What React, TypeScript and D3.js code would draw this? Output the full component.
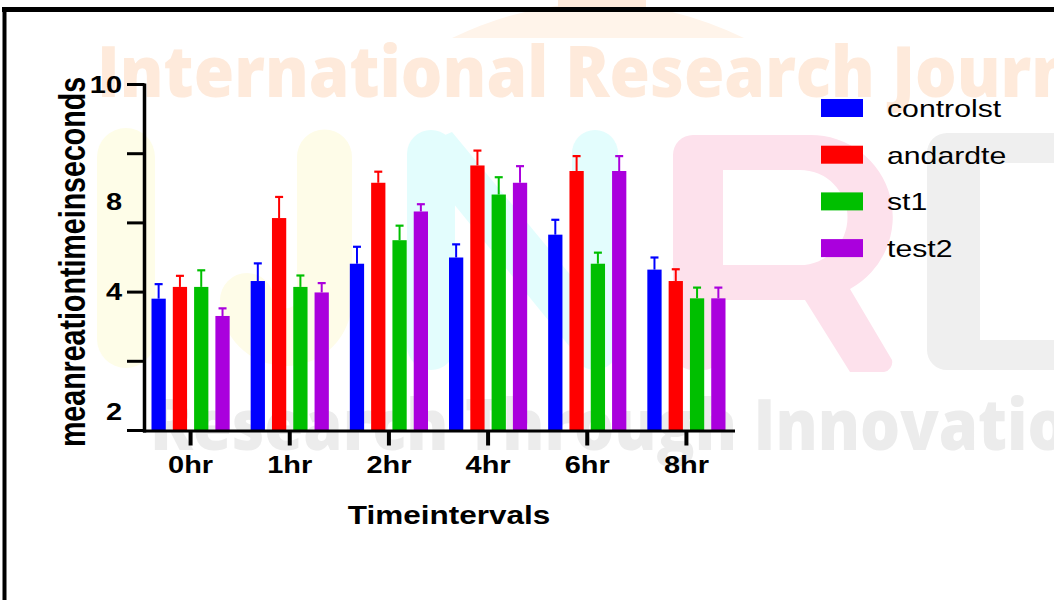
import React from "react";
import * as d3 from "d3";

// ---------- data ----------
const categories = ["0hr", "1hr", "2hr", "4hr", "6hr", "8hr"];
const seriesNames = ["controlst", "andardte", "st1", "test2"];
const seriesColors = ["#0000FF", "#FF0000", "#00BF00", "#AA00DD"];

const controlst = [3.81, 4.32, 4.82, 5.0, 5.66, 4.65];
const controlstErr = [0.42, 0.51, 0.49, 0.38, 0.43, 0.35];
const andardte = [4.15, 6.14, 7.16, 7.66, 7.5, 4.32];
const andardteErr = [0.32, 0.61, 0.32, 0.43, 0.43, 0.34];
const st1 = [4.15, 4.15, 5.5, 6.82, 4.82, 3.82];
const st1Err = [0.48, 0.33, 0.42, 0.5, 0.32, 0.31];
const test2 = [3.31, 3.99, 6.33, 7.16, 7.5, 3.82];
const test2Err = [0.22, 0.27, 0.21, 0.48, 0.43, 0.31];

const seriesValues = [controlst, andardte, st1, test2];
const seriesErrors = [controlstErr, andardteErr, st1Err, test2Err];

const yTickValues = [0, 2, 4, 6, 8, 10];
const yLabelValues = [10, 6.6, 4, 0.55];
const yLabelTexts = ["10", "8", "4", "2"];

const xTitle = "Timeintervals";
const yTitle = "meanreationtimeinseconds";

// ---------- styling ----------
const W = 1054;
const H = 600;
const SX = 1.26; // horizontal text stretch seen in the reference
const FONT = "'Liberation Sans', Arial, Helvetica, sans-serif";

function Watermark() {
  return (
    <g>
      {/* top dome */}
      <path d="M452,38 Q598,-32 744,38 Z" fill="#fff4ea" />
      <rect x={558} y={0} width={88} height={8} fill="#feeadb" />
      {/* I */}
      <rect x={97} y={128} width={58} height={240} rx={29} fill="#fefde8" />
      {/* J */}
      <path
        d="M297,157 a27.5,27.5 0 0 1 55,0 V300 a66,66 0 0 1 -132,0 a27,27 0 0 1 54,0 a12,12 0 0 0 23,0 Z"
        fill="#fefce8"
      />
      {/* N */}
      <rect x={407} y={130} width={48} height={240} rx={24} fill="#e3fdfd" />
      <rect x={572} y={130} width={46} height={240} rx={23} fill="#e3fdfd" />
      <path d="M410,150 L452,132 L616,330 L574,352 Z" fill="#e3fdfd" />
      {/* R */}
      <path
        d="M673,155 a20,20 0 0 1 20,-20 H810 a82,82 0 0 1 40,154 L892,360 a10,10 0 0 1 -8,12 H850 L805,300 H723 V350 a20,20 0 0 1 -20,20 H693 a20,20 0 0 1 -20,-20 Z M723,170 V265 H800 a47,47 0 0 0 0,-95 Z"
        fill="#fde1ec"
        fillRule="evenodd"
      />
      {/* D */}
      <path
        d="M927,153 a20,20 0 0 1 20,-20 H1054 V370 H947 a20,20 0 0 1 -20,-20 Z M980,163 V340 H1054 V163 Z"
        fill="#efefef"
        fillRule="evenodd"
      />
      <text
        x={97}
        y={97}
        fontFamily="'Open Sans', Lato, sans-serif"
        fontWeight={800}
        fontSize={70}
        fill="#feeadb"
        textLength={1040}
        lengthAdjust="spacingAndGlyphs"
      >
        International Research Journal
      </text>
      <text
        x={150}
        y={450}
        fontFamily="'Open Sans', Lato, sans-serif"
        fontWeight={800}
        fontSize={70}
        fill="#ececec"
        textLength={960}
        lengthAdjust="spacingAndGlyphs"
      >
        Research Through Innovation
      </text>
    </g>
  );
}

export default function App() {
  const y = d3.scaleLinear().domain([0, 10]).range([430.5, 84.5]);
  const x0 = d3.scaleBand<string>().domain(categories).range([141, 736]);
  const x1 = d3
    .scaleBand<string>()
    .domain(seriesNames)
    .range([0, x0.bandwidth()])
    .paddingInner(0.33)
    .paddingOuter(0.493);

  const axisX = 144.5;
  const baseY = y(0);

  return (
    <svg
      width={W}
      height={H}
      viewBox={`0 0 ${W} ${H}`}
      style={{ position: "absolute", left: 0, top: 0, background: "#fff" }}
    >
      <rect x={0} y={0} width={W} height={H} fill="#fff" />
      <Watermark />

      {/* frame */}
      <line x1={2} x2={W} y1={9.5} y2={9.5} stroke="#000" strokeWidth={5} />
      <line x1={4.5} x2={4.5} y1={7} y2={H} stroke="#000" strokeWidth={4} />

      {/* bars */}
      {categories.map((c, i) => (
        <g key={c}>
          {seriesNames.map((s, j) => {
            const v = seriesValues[j][i];
            const e = seriesErrors[j][i];
            const bx = (x0(c) as number) + (x1(s) as number);
            const bw = x1.bandwidth();
            const cx = bx + bw / 2;
            const col = seriesColors[j];
            return (
              <g key={s}>
                <rect x={bx} y={y(v)} width={bw} height={baseY - y(v)} fill={col} />
                <line x1={cx} x2={cx} y1={y(v)} y2={y(v + e)} stroke={col} strokeWidth={2} />
                <line x1={cx - 4} x2={cx + 4} y1={y(v + e)} y2={y(v + e)} stroke={col} strokeWidth={2.2} />
              </g>
            );
          })}
        </g>
      ))}

      {/* y axis */}
      <line x1={axisX} x2={axisX} y1={y(10) - 1} y2={baseY + 2} stroke="#000" strokeWidth={3.5} />
      {yTickValues.map((t) => (
        <line key={t} x1={127} x2={axisX} y1={y(t)} y2={y(t)} stroke="#000" strokeWidth={3} />
      ))}
      {yLabelValues.map((v, i) => (
        <text
          key={i}
          transform={`translate(122,${y(v)}) scale(${SX},1)`}
          textAnchor="end"
          dy="0.36em"
          fontFamily={FONT}
          fontWeight="bold"
          fontSize={23}
          fill="#000"
        >
          {yLabelTexts[i]}
        </text>
      ))}

      {/* x axis */}
      <line x1={143} x2={735} y1={baseY + 0.5} y2={baseY + 0.5} stroke="#000" strokeWidth={3} />
      {categories.map((c) => {
        const cx = (x0(c) as number) + x0.bandwidth() / 2;
        return (
          <g key={c}>
            <line x1={cx} x2={cx} y1={baseY} y2={baseY + 15} stroke="#000" strokeWidth={4} />
            <text
              transform={`translate(${cx},473) scale(${SX},1)`}
              textAnchor="middle"
              fontFamily={FONT}
              fontWeight="bold"
              fontSize={23}
              fill="#000"
            >
              {c}
            </text>
          </g>
        );
      })}

      {/* axis titles */}
      <text
        transform={`translate(449,524) scale(${SX},1)`}
        textAnchor="middle"
        fontFamily={FONT}
        fontWeight="bold"
        fontSize={25}
        fill="#000"
      >
        {xTitle}
      </text>
      <text
        transform={`translate(85,262) scale(${SX},1) rotate(-90)`}
        textAnchor="middle"
        fontFamily={FONT}
        fontWeight="bold"
        fontSize={28.6}
        fill="#000"
      >
        {yTitle}
      </text>

      {/* legend */}
      {seriesNames.map((s, i) => (
        <g key={s}>
          <rect x={821} y={99 + i * 46.7} width={42} height={18} fill={seriesColors[i]} />
          <text
            transform={`translate(887,${117 + i * 46.7}) scale(${SX},1)`}
            fontFamily={FONT}
            fontSize={24}
            fill="#000"
          >
            {s}
          </text>
        </g>
      ))}
    </svg>
  );
}
